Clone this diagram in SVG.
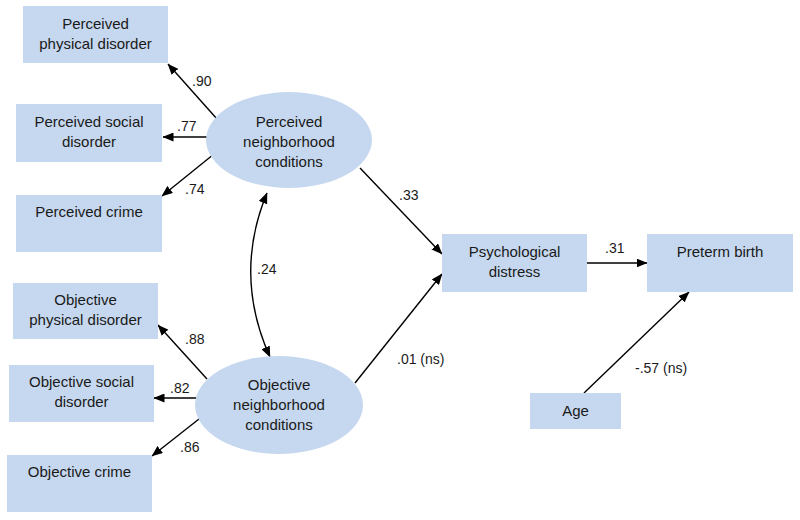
<svg xmlns="http://www.w3.org/2000/svg" width="800" height="520" viewBox="0 0 800 520">
<defs>
<marker id="ah" markerWidth="11" markerHeight="9" refX="10.5" refY="4.5" orient="auto-start-reverse" markerUnits="userSpaceOnUse">
<path d="M0,0 L11,4.5 L0,9 z" fill="#000"/>
</marker>
<style>
.box{fill:#c6d8ef;}
.t{font-family:"Liberation Sans",Arial,sans-serif;font-size:15px;fill:#1a1a1a;text-anchor:middle;}
.l{font-family:"Liberation Sans",Arial,sans-serif;font-size:14px;fill:#1a1a1a;}
.c{stroke:#000;stroke-width:1.4;fill:none;marker-end:url(#ah);}
</style>
</defs>
<rect width="800" height="520" fill="#fff"/>
<g id="connectors">
<line class="c" x1="217" y1="119" x2="168" y2="64"/>
<line class="c" x1="207" y1="137" x2="163" y2="137"/>
<line class="c" x1="214" y1="154" x2="162" y2="196"/>
<line class="c" x1="207" y1="379" x2="158" y2="325"/>
<line class="c" x1="197" y1="398" x2="154" y2="398"/>
<line class="c" x1="199" y1="419" x2="152" y2="456"/>
<path class="c" style="marker-start:url(#ah)" d="M267,193 Q233,275 270,357"/>
<line class="c" x1="360" y1="168" x2="442" y2="254"/>
<line class="c" x1="355" y1="383" x2="442" y2="274"/>
<line class="c" x1="586" y1="263" x2="647" y2="263"/>
<line class="c" x1="584" y1="393" x2="689" y2="292"/>
<text class="l" x="192" y="86">.90</text>
<text class="l" x="177" y="131">.77</text>
<text class="l" x="185" y="194">.74</text>
<text class="l" x="257" y="274">.24</text>
<text class="l" x="185" y="344">.88</text>
<text class="l" x="170" y="393">.82</text>
<text class="l" x="180" y="452">.86</text>
<text class="l" x="399" y="200">.33</text>
<text class="l" x="397" y="364">.01 (ns)</text>
<text class="l" x="605" y="253">.31</text>
<text class="l" x="635" y="373">-.57 (ns)</text>
</g>
<g id="perc-phys"><rect class="box" x="23" y="6" width="145" height="57"/><text class="t" x="95.5" y="29">Perceived</text><text class="t" x="95.5" y="49">physical disorder</text></g>
<g id="perc-soc"><rect class="box" x="16" y="104" width="146" height="58"/><text class="t" x="89" y="127">Perceived social</text><text class="t" x="89" y="147">disorder</text></g>
<g id="perc-crime"><rect class="box" x="16" y="195" width="146" height="57"/><text class="t" x="89" y="217">Perceived crime</text></g>
<g id="perc-latent"><ellipse class="box" cx="289" cy="140" rx="83" ry="48"/><text class="t" x="289" y="127">Perceived</text><text class="t" x="289" y="147">neighborhood</text><text class="t" x="289" y="167">conditions</text></g>
<g id="obj-phys"><rect class="box" x="13" y="283" width="145" height="56"/><text class="t" x="85.5" y="305">Objective</text><text class="t" x="85.5" y="325">physical disorder</text></g>
<g id="obj-soc"><rect class="box" x="9" y="365" width="145" height="57"/><text class="t" x="81.5" y="387">Objective social</text><text class="t" x="81.5" y="407">disorder</text></g>
<g id="obj-crime"><rect class="box" x="7" y="455" width="145" height="57"/><text class="t" x="79.5" y="477">Objective crime</text></g>
<g id="obj-latent"><ellipse class="box" cx="279" cy="405" rx="84" ry="49"/><text class="t" x="279" y="390">Objective</text><text class="t" x="279" y="410">neighborhood</text><text class="t" x="279" y="430">conditions</text></g>
<g id="psych"><rect class="box" x="442" y="234" width="145" height="58"/><text class="t" x="514.5" y="257">Psychological</text><text class="t" x="514.5" y="277">distress</text></g>
<g id="preterm"><rect class="box" x="647" y="234" width="146" height="58"/><text class="t" x="720" y="257">Preterm birth</text></g>
<g id="age"><rect class="box" x="530" y="393" width="91" height="36"/><text class="t" x="575.5" y="416">Age</text></g>
</svg>
